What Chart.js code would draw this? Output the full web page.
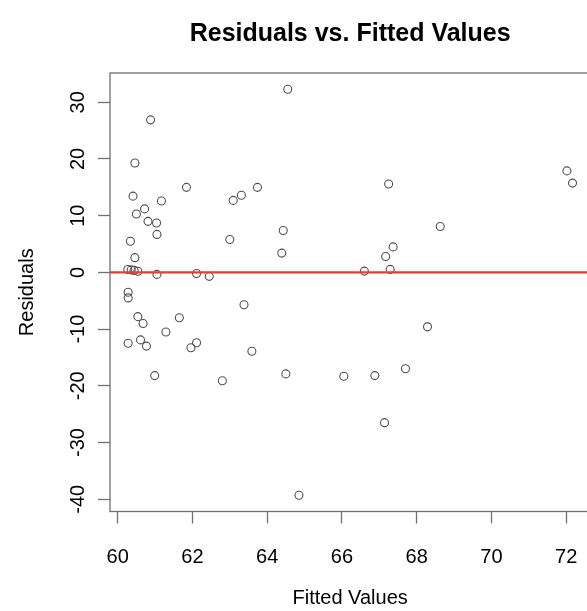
<!DOCTYPE html>
<html>
<head>
<meta charset="utf-8">
<script src="https://cdn.jsdelivr.net/npm/chart.js@4.4.1/dist/chart.umd.min.js"></script>
<style>
  html, body { margin: 0; padding: 0; background: #fff; overflow: hidden; }
  #wrap { width: 600px; height: 611px; }
</style>
</head>
<body>
<div id="wrap"><canvas id="chart" width="600" height="611"></canvas></div>
<script>
// Fitted values and residuals
const FITTED = [60.88, 60.46, 61.84, 60.41, 61.17, 60.72, 60.50, 60.81, 61.04, 61.05, 60.34, 60.46,
  63.09, 63.31, 63.74, 63.00, 60.27, 60.36, 60.44, 60.54, 61.05, 62.11, 62.45, 60.28, 60.28, 63.38,
  60.54, 60.68, 61.65, 61.29, 60.28, 60.61, 60.77, 61.96, 62.11, 63.59, 60.99, 62.80, 64.55, 67.25,
  64.43, 64.39, 67.37, 67.17, 66.60, 67.29, 68.29, 64.50, 66.05, 66.88, 67.70, 67.14, 64.85, 72.02,
  72.17, 68.63];
const RESIDUALS = [26.9, 19.3, 15.0, 13.45, 12.6, 11.2, 10.3, 9.0, 8.7, 6.7, 5.5, 2.6,
  12.7, 13.6, 15.0, 5.8, 0.5, 0.45, 0.35, 0.2, -0.35, -0.2, -0.7, -3.5, -4.5, -5.7,
  -7.8, -9.0, -8.0, -10.5, -12.5, -11.9, -13.0, -13.3, -12.4, -13.9, -18.2, -19.1, 32.3, 15.6,
  7.4, 3.4, 4.5, 2.8, 0.23, 0.53, -9.6, -17.9, -18.3, -18.2, -17.0, -26.5, -39.3, 17.9,
  15.75, 8.1];

const X_TICKS = [60, 62, 64, 66, 68, 70, 72];
const Y_TICKS = [-40, -30, -20, -10, 0, 10, 20, 30];

// R style axis limits: data range padded by 4% on each side
function paddedRange(vals) {
  const lo = Math.min(...vals), hi = Math.max(...vals);
  const pad = (hi - lo) * 0.04;
  return [lo - pad, hi + pad];
}
const [X_MIN, X_MAX] = paddedRange(FITTED);
const [Y_MIN, Y_MAX] = paddedRange(RESIDUALS);

const AXIS_GREY = '#707070';
const FONT = 'Liberation Sans, Arial, sans-serif';

const boxPlugin = {
  id: 'plotBox',
  afterDraw(chart) {
    const { ctx, chartArea: a } = chart;
    ctx.save();
    ctx.strokeStyle = AXIS_GREY;
    ctx.lineWidth = 1.3;
    ctx.strokeRect(a.left, a.top, a.right - a.left, a.bottom - a.top);
    ctx.restore();
  }
};

new Chart(document.getElementById('chart'), {
  type: 'scatter',
  data: {
    datasets: [
      {
        label: 'zero',
        data: [{ x: X_MIN, y: 0 }, { x: X_MAX, y: 0 }],
        showLine: true,
        borderColor: '#ee3b2f',
        borderWidth: 2.2,
        pointRadius: 0,
        order: 0
      },
      {
        label: 'residuals',
        data: FITTED.map((x, i) => ({ x, y: RESIDUALS[i] })),
        pointStyle: 'circle',
        pointRadius: 4,
        pointBorderWidth: 1.1,
        pointBorderColor: '#505050',
        pointBackgroundColor: 'rgba(0,0,0,0)',
        order: 1
      }
    ]
  },
  options: {
    responsive: false,
    animation: false,
    layout: { padding: { left: 0, right: 9.7, top: 0, bottom: 0 } },
    plugins: {
      legend: { display: false },
      tooltip: { enabled: false },
      title: {
        display: true,
        text: 'Residuals vs. Fitted Values',
        fullSize: false,
        color: '#000',
        font: { family: FONT, size: 25, weight: 'bold' },
        padding: { top: 19, bottom: 24 }
      }
    },
    scales: {
      x: {
        type: 'linear',
        min: X_MIN,
        max: X_MAX,
        afterBuildTicks: s => { s.ticks = X_TICKS.map(v => ({ value: v })); },
        afterFit: s => { s.height = 99.5; },
        ticks: {
          color: '#000',
          font: { family: FONT, size: 20 },
          padding: 22,
          maxRotation: 0,
          autoSkip: false
        },
        grid: { drawOnChartArea: false, drawTicks: true, tickLength: 12, tickColor: AXIS_GREY, tickWidth: 1.3 },
        border: { display: false },
        title: {
          display: true,
          text: 'Fitted Values',
          color: '#000',
          font: { family: FONT, size: 20 },
          padding: { top: 0, bottom: 1 }
        }
      },
      y: {
        type: 'linear',
        min: Y_MIN,
        max: Y_MAX,
        afterBuildTicks: s => { s.ticks = Y_TICKS.map(v => ({ value: v })); },
        afterFit: s => { s.width = 110; },
        ticks: {
          color: '#000',
          font: { family: FONT, size: 20 },
          padding: 5,
          minRotation: 90,
          maxRotation: 90,
          crossAlign: 'center',
          autoSkip: false
        },
        grid: { drawOnChartArea: false, drawTicks: true, tickLength: 12, tickColor: AXIS_GREY, tickWidth: 1.3 },
        border: { display: false },
        title: {
          display: true,
          text: 'Residuals',
          color: '#000',
          font: { family: FONT, size: 20 },
          padding: { top: 15, bottom: 0 }
        }
      }
    }
  },
  plugins: [boxPlugin]
});
</script>
</body>
</html>
